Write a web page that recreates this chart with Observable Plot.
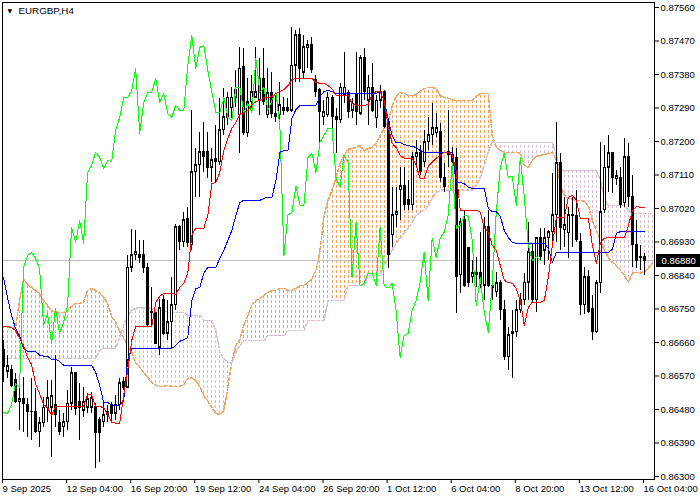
<!DOCTYPE html>
<html><head><meta charset="utf-8">
<script src="https://cdn.jsdelivr.net/npm/d3@7"></script>
<script src="https://cdn.jsdelivr.net/npm/@observablehq/plot@0.6"></script>
<style>
html,body{margin:0;padding:0;background:#fff;}
#chart svg{display:block;}
</style></head><body><div id="chart"></div>
<script>
const symbolTitle = "EURGBP,H4";
// H4 candles (prices in 1e-5 units)
const open = [86639,86582,86585,86558,86499,86507,86491,86474,86474,86419,
86443,86483,86485,86491,86443,86432,86446,86496,86577,86499,
86477,86485,86485,86488,86451,86446,86464,86491,86469,86491,
86553,86539,86861,86894,86894,86894,86861,86741,86738,86646,
86773,86684,86714,86760,86969,86929,86993,86921,87117,87136,
87171,87171,87130,87152,87144,87230,87262,87289,87318,87270,
87399,87222,87305,87318,87310,87369,87270,87329,87275,87270,
87291,87289,87283,87404,87485,87385,87450,87458,87364,87337,
87265,87270,87316,87265,87257,87324,87329,87283,87324,87275,
87423,87310,87345,87262,87310,87332,87252,86948,87002,87069,
87080,87042,87029,87157,87168,87144,87198,87217,87222,87225,
87103,87171,87163,87155,86840,86988,86913,86835,86840,86846,
86813,86969,86813,86795,86821,86746,86620,86687,86687,86746,
86773,86821,86902,86773,86940,86907,86940,86956,87002,87141,
86961,86953,87002,86999,86929,86760,86835,86749,86687,86819,
87015,87130,87168,87098,87103,87034,87157,87050,86921,86886,
86891];
const high = [86665,86626,86599,86577,86539,86566,86510,86564,86537,86458,
86512,86558,86558,86626,86477,86469,86531,86593,86580,86550,
86539,86523,86526,86496,86458,86504,86491,86499,86518,86564,
86566,86894,86964,86961,86934,86934,86872,86808,86741,86776,
86787,86773,86835,86977,86975,87010,87023,87283,87181,87225,
87252,87225,87181,87243,87316,87342,87332,87345,87391,87453,
87450,87369,87377,87453,87423,87450,87396,87385,87324,87359,
87318,87316,87506,87498,87504,87485,87472,87480,87377,87342,
87310,87332,87324,87289,87356,87439,87337,87316,87439,87431,
87450,87377,87410,87324,87350,87337,87262,87077,87077,87130,
87130,87095,87171,87203,87189,87230,87265,87302,87275,87249,
87141,87283,87184,87181,86993,87015,86915,86880,86888,86956,
86996,87015,86827,86849,86827,86773,86700,86746,86773,86792,
86846,86983,86926,86942,86966,86966,86961,87114,87252,87168,
87050,87023,87050,87069,86953,86861,86854,86787,86827,87198,
87189,87217,87171,87122,87130,87208,87195,87109,86988,86921,
86899];
const low = [86553,86564,86539,86496,86424,86419,86405,86397,86416,86378,
86432,86446,86351,86432,86411,86405,86424,86477,86464,86397,
86458,86469,86469,86322,86338,86432,86446,86446,86451,86477,
86531,86537,86849,86880,86872,86846,86703,86706,86654,86626,
86679,86665,86644,86746,86907,86915,86915,86907,87050,87050,
87117,87100,87090,87090,87136,87217,87243,87262,87291,87168,
87217,87211,87289,87316,87270,87297,87262,87262,87251,87251,
87270,87278,87278,87359,87359,87369,87396,87383,87318,87181,
87243,87265,87225,87168,87249,87302,87262,87262,87243,87270,
87310,87243,87278,87235,87289,87235,86859,86915,86969,86988,
87015,87015,87015,87136,87109,87130,87176,87189,87211,87090,
87063,87130,87122,86738,86792,86808,86808,86819,86808,86806,
86773,86808,86773,86781,86719,86612,86585,86564,86673,86738,
86760,86773,86765,86741,86880,86867,86880,86926,86929,86907,
86915,86886,86915,86929,86732,86735,86738,86665,86684,86792,
87007,87063,87061,87082,87020,87023,87023,86861,86859,86854,
86840];
const close = [86593,86596,86542,86499,86507,86496,86472,86472,86419,86443,
86485,86510,86515,86464,86419,86446,86496,86577,86480,86483,
86499,86507,86510,86416,86416,86464,86472,86469,86493,86550,
86539,86861,86894,86902,86886,86859,86706,86738,86657,86752,
86684,86714,86760,86969,86929,86988,86926,87117,87136,87171,
87157,87128,87149,87146,87230,87265,87318,87318,87337,87396,
87222,87305,87332,87332,87369,87305,87329,87275,87265,87297,
87283,87283,87404,87485,87396,87453,87458,87391,87332,87278,
87278,87318,87265,87257,87345,87345,87278,87302,87278,87423,
87332,87345,87283,87310,87332,87238,86894,87002,87010,87080,
87029,87029,87157,87168,87117,87198,87217,87235,87235,87103,
87077,87163,87144,86835,86983,86813,86819,86846,86846,86813,
86969,86813,86806,86819,86746,86620,86679,86684,86746,86773,
86821,86902,86773,86940,86889,86940,86956,87002,87141,86967,
86975,87002,86999,86934,86760,86835,86741,86687,86819,87010,
87130,87168,87103,87106,87029,87157,87050,86921,86880,86891,
86880];
// Ichimoku lines
const tenkan = [86703,86703,86700,86692,86671,86652,86620,86601,86550,86523,
86493,86485,86464,86488,86488,86488,86488,86488,86488,86488,
86488,86520,86520,86488,86488,86485,86466,86446,86443,86443,
86518,86585,86665,86703,86703,86703,86703,86703,86768,86784,
86792,86792,86792,86789,86808,86819,86846,86948,86967,86967,
86967,87001,87087,87090,87117,87176,87208,87235,87251,87273,
87278,87283,87299,87307,87310,87318,87318,87321,87329,87334,
87340,87350,87367,87369,87369,87369,87369,87369,87359,87356,
87356,87350,87342,87324,87324,87324,87324,87302,87297,87297,
87297,87299,87326,87334,87334,87310,87243,87195,87184,87163,
87155,87155,87155,87136,87101,87101,87133,87144,87155,87163,
87171,87171,87163,87122,87015,87015,87015,87015,87015,87010,
86969,86956,86921,86907,86867,86827,86821,86819,86805,86773,
86706,86754,86768,86768,86768,86773,86835,86921,86996,86996,
86996,87050,87055,87042,86993,86993,86993,86921,86872,86929,
86940,86942,86942,86942,86942,86942,86975,87015,87026,87023,
87023];
const kijun = [86835,86781,86733,86698,86679,86644,86636,86636,86636,86626,
86623,86623,86615,86615,86609,86599,86599,86599,86599,86599,
86599,86599,86599,86580,86545,86499,86499,86491,86491,86491,
86504,86612,86644,86644,86644,86644,86644,86644,86644,86644,
86644,86644,86644,86652,86663,86668,86673,86773,86805,86808,
86846,86862,86862,86862,86886,86907,86934,86961,87001,87036,
87042,87042,87042,87042,87042,87047,87050,87050,87095,87171,
87176,87176,87262,87286,87297,87297,87297,87297,87297,87321,
87334,87337,87334,87329,87329,87329,87329,87329,87329,87329,
87329,87329,87329,87329,87334,87310,87262,87216,87197,87197,
87192,87189,87187,87184,87176,87171,87171,87171,87171,87171,
87171,87171,87171,87090,87090,87087,87077,87074,87074,87074,
87074,87020,87012,87012,86999,86961,86942,86929,86926,86926,
86926,86926,86926,86926,86926,86926,86913,86875,86902,86902,
86902,86902,86902,86902,86902,86902,86902,86902,86902,86902,
86902,86902,86910,86953,86958,86958,86958,86958,86958,86958,
86958];
const spanA = [86703,86703,86700,86698,86773,86830,86816,86808,86800,86792,
86773,86760,86746,86741,86741,86741,86746,86757,86765,86765,
86768,86800,86805,86800,86792,86781,86765,86730,86714,86690,
86673,86652,86634,86604,86593,86580,86566,86553,86545,86542,
86542,86545,86542,86542,86542,86547,86564,86564,86558,86542,
86518,86502,86485,86469,86467,86477,86539,86607,86652,86668,
86706,86733,86760,86773,86778,86787,86795,86800,86800,86805,
86805,86800,86800,86805,86813,86813,86821,86832,86854,86907,
87001,87042,87069,87103,87141,87163,87179,87181,87184,87189,
87176,87181,87184,87195,87216,87235,87251,87294,87321,87332,
87329,87324,87324,87326,87334,87342,87345,87345,87342,87324,
87318,87316,87313,87310,87310,87310,87310,87310,87321,87329,
87329,87329,87216,87184,87176,87171,87171,87171,87171,87168,
87136,87130,87149,87160,87163,87165,87168,87171,87149,87082,
87055,87047,87045,87042,87042,87039,87028,86988,86961,86934,
86907,86888,86875,86867,86854,86840,86821,86846,86848,86846,
86851,86859,86875];
const spanB = [86617,86617,86617,86617,86617,86617,86617,86617,86617,86617,
86617,86617,86617,86617,86617,86617,86617,86617,86617,86617,
86617,86617,86617,86617,86639,86644,86644,86644,86644,86673,
86706,86733,86746,86752,86754,86752,86752,86752,86746,86746,
86746,86741,86741,86741,86741,86741,86733,86733,86733,86733,
86719,86719,86719,86692,86634,86617,86607,86604,86634,86652,
86665,86665,86665,86665,86665,86665,86679,86679,86679,86679,
86679,86692,86692,86692,86692,86692,86719,86719,86719,86719,
86719,86773,86773,86773,86773,86773,86813,86813,86813,86813,
86813,86840,86840,86840,86840,86867,86886,86907,86926,86940,
86953,86967,86983,87001,87010,87015,87028,87047,87061,87069,
87069,87069,87069,87069,87069,87069,87069,87069,87082,87103,
87136,87171,87200,87197,87197,87197,87197,87197,87197,87197,
87197,87197,87197,87197,87197,87197,87197,87197,87163,87122,
87122,87122,87122,87122,87122,87122,87122,87122,87122,87095,
87047,87028,87028,87028,87028,87028,87015,87007,87007,87007,
87007,87007,87007];
const tickBars = [0,16,32,48,64,80,96,112,128,144,160];
const tickLabels = ["9 Sep 2025","12 Sep 04:00","16 Sep 20:00","19 Sep 12:00","24 Sep 04:00","26 Sep 20:00","1 Oct 12:00","6 Oct 04:00","8 Oct 20:00","13 Oct 12:00","16 Oct 04:00"];
const priceTicks = [0.87560,0.87470,0.87380,0.87290,0.87200,0.87110,0.87020,0.86930,0.86840,0.86750,0.86660,0.86570,0.86480,0.86390,0.86300];
const chikouShift = 26;
const SCALE = 1e5;

const bars = close.map((c, i) => ({
  i, o: open[i] / SCALE, h: high[i] / SCALE, l: low[i] / SCALE, c: c / SCALE,
  up: c >= open[i]
}));
const lines = tenkan.map((t, i) => ({i, t: t / SCALE, k: kijun[i] / SCALE}));
const chikou = close.slice(chikouShift).map((c, k) => ({i: k, v: c / SCALE}));
const cloud = spanA.map((a, i) => ({i, a: a / SCALE, b: spanB[i] / SCALE}));
const cloudUp = cloud.filter(d => d.a >= d.b);   // Span A above Span B
const cloudDown = cloud.filter(d => d.a < d.b);  // Span B above Span A
const lastPrice = close[close.length - 1] / SCALE;

const xMax = 162.5;
const font = "'Liberation Sans', Arial, sans-serif";
const SANDY = "#f4a460", THISTLE = "#d8bfd8";

const chart = Plot.plot({
  width: 700, height: 500,
  marginLeft: 2, marginRight: 46, marginTop: 2, marginBottom: 21,
  style: {fontFamily: font, fontSize: "9.5px", background: "#fff", color: "#000"},
  x: {type: "linear", domain: [-0.25, xMax], label: null},
  y: {domain: [0.862919, 0.875734], label: null},
  marks: [
    // cloud hatching
    Plot.ruleX(cloudUp, {x: "i", y1: "a", y2: "b", stroke: SANDY, strokeDasharray: "3,2", shapeRendering: "crispEdges"}),
    Plot.ruleX(cloudDown, {x: "i", y1: "b", y2: "a", stroke: THISTLE, strokeDasharray: "3,2", shapeRendering: "crispEdges"}),
    Plot.line(cloud, {x: "i", y: "a", stroke: SANDY, strokeDasharray: "3,2", shapeRendering: "crispEdges"}),
    Plot.line(cloud, {x: "i", y: "b", stroke: THISTLE, strokeDasharray: "3,2", shapeRendering: "crispEdges"}),
    // current price line
    Plot.ruleY([lastPrice], {stroke: "#c0c0c0", shapeRendering: "crispEdges"}),
    // candles
    Plot.ruleX(bars, {x: "i", y1: "h", y2: "l", stroke: "#000", shapeRendering: "crispEdges"}),
    Plot.ruleX(bars, {x: "i", y1: d => Math.max(d.o, d.c), y2: d => Math.min(d.o, d.c),
      stroke: "#000", strokeWidth: 3, insetTop: -0.5, insetBottom: -0.5, shapeRendering: "crispEdges"}),
    Plot.ruleX(bars.filter(d => d.up && (d.c - d.o) > 0.00006), {x: "i", y1: "c", y2: "o",
      stroke: "#fff", strokeWidth: 1, insetTop: 1, insetBottom: 1, shapeRendering: "crispEdges"}),
    // ichimoku lines
    Plot.line(chikou, {x: "i", y: "v", stroke: "#00ff00", strokeWidth: 1, shapeRendering: "crispEdges"}),
    Plot.line(lines, {x: "i", y: "k", stroke: "#0000ff", strokeWidth: 1, shapeRendering: "crispEdges"}),
    Plot.line(lines, {x: "i", y: "t", stroke: "#ff0000", strokeWidth: 1, shapeRendering: "crispEdges"}),
    Plot.frame({stroke: "#000", shapeRendering: "crispEdges"}),
    Plot.axisY(priceTicks, {anchor: "right", tickSize: 4, tickPadding: 2,
      tickFormat: d => d.toFixed(5), fontSize: 9.5, fill: "#000"}),
    Plot.axisX(tickBars, {anchor: "bottom", tickSize: 4, tickPadding: 2, textAnchor: "start", dx: -1,
      tickFormat: d => tickLabels[tickBars.indexOf(d)], fontSize: 9.5, fill: "#000"}),
    // last price label
    Plot.ruleY([lastPrice], {x1: xMax + 0.5, x2: xMax + 12, stroke: "#000", strokeWidth: 13}),
    Plot.text([lastPrice], {x: xMax, y: d => d, text: d => d.toFixed(5), dx: 7, textAnchor: "start",
      fill: "#fff", fontSize: 9.5}),
    // title
    Plot.text(["\u25BC"], {frameAnchor: "top-left", dx: 5, dy: 8.5, text: d => d, textAnchor: "start",
      lineAnchor: "middle", fontSize: 6, fill: "#000", fontFamily: "DejaVu Sans"}),
    Plot.text([symbolTitle], {frameAnchor: "top-left", dx: 16, dy: 8.5, text: d => d, textAnchor: "start",
      lineAnchor: "middle", fontSize: 9.8, fill: "#000"})
  ]
});
// align the dotted hatch of the cloud on a common row grid (as the terminal draws it)
d3.select(chart).selectAll(`g[stroke="${SANDY}"] line, g[stroke="${THISTLE}"] line`).each(function () {
  let y1 = +this.getAttribute("y1"), y2 = +this.getAttribute("y2");
  if (y1 > y2) { this.setAttribute("y1", y2); this.setAttribute("y2", y1); [y1, y2] = [y2, y1]; }
  this.setAttribute("stroke-dashoffset", ((y1 % 5) + 5) % 5);
});
document.getElementById("chart").appendChild(chart);
</script>
</body></html>
